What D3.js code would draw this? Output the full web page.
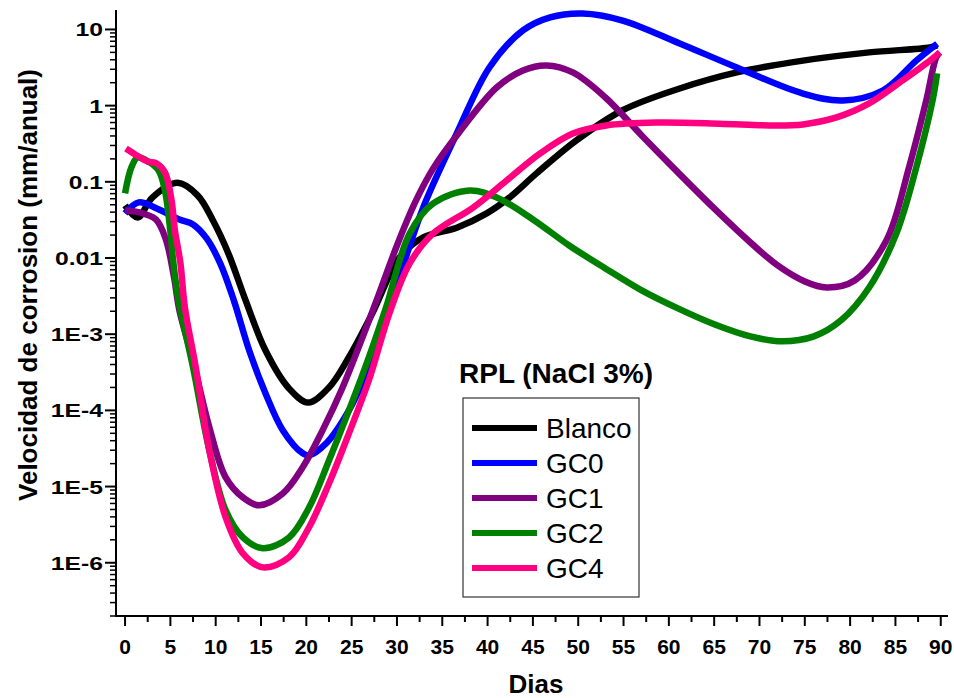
<!DOCTYPE html>
<html>
<head>
<meta charset="utf-8">
<script src="https://cdn.jsdelivr.net/npm/d3@7"></script>
<style>
  html, body { margin: 0; padding: 0; background: #fff; }
  svg { display: block; }
  text { font-family: "Liberation Sans", Arial, sans-serif; }
</style>
</head>
<body>
<svg id="chart" width="954" height="698"></svg>
<script>
// ---- data (day, corrosion rate mm/anual) ----
const seriesNames = ["Blanco", "GC0", "GC1", "GC2", "GC4"];
const seriesColors = ["#000000", "#0000ff", "#800080", "#008000", "#ff0080"];

const blanco = [[0,0.049],[1.4,0.034],[3,0.062],[5.8,0.097],[8,0.0664],[9.7,0.0311],[11.4,0.0115],
  [13.3,2.78e-3],[15.5,6.1e-4],[18,2.0e-4],[20.2,1.27e-4],[22.5,2.0e-4],[24.7,5.0e-4],[27.3,1.9e-3],
  [30.3,0.0102],[32.9,0.0186],[36.6,0.025],[39.9,0.0385],[42.4,0.062],[45.4,0.129],[49.8,0.35],
  [54.9,0.87],[61.2,1.68],[67.5,2.73],[74.8,3.9],[82.1,5.0],[88.8,5.8],[89.6,6.2]];
const gc0 = [[0,0.0385],[1.5,0.0537],[3.5,0.0448],[6,0.032],[7.5,0.0276],[9,0.0181],[10.5,8.5e-3],
  [12,2.78e-3],[13.7,6.1e-4],[15.5,1.67e-4],[17.4,5.5e-5],[19.6,2.73e-5],[20.3,2.57e-5],[22.2,3.7e-5],
  [24.7,1.0e-4],[26.9,3.66e-4],[28.8,1.52e-3],[30.8,8.75e-3],[32.9,0.0461],[36.6,0.431],[40.2,3.17],
  [43.9,9.7],[46.9,14.4],[50.5,16.2],[54.9,13.1],[61.2,6.55],[67.5,3.17],[74.8,1.44],[79.2,1.17],
  [83.6,1.58],[87.3,3.9],[89.6,6.5]];
const gc1 = [[0,0.0421],[1.6,0.0397],[3.4,0.0321],[4.5,0.0175],[5.4,5.6e-3],[6,2.05e-3],[7.5,4.5e-4],
  [9.3,6.0e-5],[11.1,1.32e-5],[13,7.2e-6],[14.8,5.67e-6],[17.4,8.1e-6],[19.6,1.79e-5],[21.8,5.5e-5],
  [24,2.0e-4],[26.2,9.1e-4],[28,3.33e-3],[30,0.0146],[32,0.0537],[34,0.15],[36.6,0.406],[41,1.73],
  [43.9,2.9],[46.5,3.37],[49.4,2.73],[53,1.28],[57,0.406],[61,0.133],[65,0.0448],[69,0.016],
  [72,8.0e-3],[75,4.93e-3],[77.4,4.11e-3],[80.5,5.08e-3],[84,0.017],[86.5,0.155],[88.4,1.17],
  [89.5,4.3],[89.9,5.0]];
const gc2 = [[0,0.0705],[0.7,0.155],[1.4,0.209],[2.7,0.18],[3.7,0.141],[4.4,0.077],[5,0.0223],
  [5.3,9.3e-3],[5.9,2.78e-3],[7.5,3.67e-4],[9.3,2.98e-5],[11.1,4.87e-6],[13,2.15e-6],[15.2,1.55e-6],
  [18.1,2.15e-6],[20.3,5.3e-6],[22.5,2.2e-5],[24.7,1.0e-4],[26.9,4.97e-4],[28.8,2.25e-3],[31.4,0.021],
  [34,0.052],[38,0.077],[41,0.0624],[45,0.0321],[49,0.0146],[53,7.3e-3],[57,3.76e-3],[61,2.18e-3],
  [65,1.35e-3],[69,9.35e-4],[72.5,8.05e-4],[76,9.35e-4],[79,1.52e-3],[82.1,4.1e-3],[85.1,0.021],
  [87.3,0.155],[89.1,1.17],[89.6,2.65]];
const gc4 = [[0.1,0.274],[1.3,0.222],[2.5,0.185],[3.5,0.174],[4.4,0.133],[5.1,0.0605],[5.5,0.023],
  [6.1,8.7e-3],[6.6,2.25e-3],[7.8,3.67e-4],[9.3,2.98e-5],[11.1,3.94e-6],[13,1.33e-6],[15.2,8.7e-7],
  [18.1,1.18e-6],[20.3,2.92e-6],[22.5,1.1e-5],[24.7,5.0e-5],[26.9,2.48e-4],[29.2,1.93e-3],[31.4,8.5e-3],
  [34,0.021],[38.4,0.046],[42.1,0.104],[45.8,0.236],[49.4,0.431],[53.1,0.55],[58.7,0.60],[65.6,0.58],
  [71.1,0.55],[74.8,0.567],[78.5,0.70],[82.1,1.07],[85.8,2.14],[88.4,3.58],[89.9,5.0]];
const allSeries = [blanco, gc0, gc1, gc2, gc4];

const xTickValues = d3.range(0, 91, 5);
const yTickValues = [1e-6, 1e-5, 1e-4, 1e-3, 0.01, 0.1, 1, 10];
const yTickLabels = ["1E-6", "1E-5", "1E-4", "1E-3", "0.01", "0.1", "1", "10"];

const xTitle = "Dias";
const yTitle = "Velocidad de corrosion (mm/anual)";
const legendTitle = "RPL (NaCl 3%)";

// ---- layout ----
const svg = d3.select("#chart");
const plot = { left: 116, right: 948, top: 10, bottom: 616 };

const x = d3.scaleLinear().domain([-1, 90.8]).range([plot.left, plot.right]);
const y = d3.scaleLog().domain([2e-7, 18]).range([plot.bottom, plot.top]);

// minor ticks
const xMinor = d3.range(2.5, 90, 5);
const yMinor = [];
for (let e = -7; e <= 1; e++) {
  for (let m = 2; m <= 9; m++) {
    const v = m * Math.pow(10, e);
    if (v >= 2e-7 && v <= 18) yMinor.push(v);
  }
}

// X axis
const xAxisG = svg.append("g").attr("transform", `translate(0,${plot.bottom})`);
xAxisG.append("line").attr("x1", plot.left - 1).attr("x2", plot.right).attr("y1", 0).attr("y2", 0)
  .attr("stroke", "#000").attr("stroke-width", 2);
xAxisG.selectAll(".xmaj").data(xTickValues).join("line")
  .attr("x1", d => x(d)).attr("x2", d => x(d)).attr("y1", 0).attr("y2", 10)
  .attr("stroke", "#000").attr("stroke-width", 2);
xAxisG.selectAll(".xmin").data(xMinor).join("line")
  .attr("x1", d => x(d)).attr("x2", d => x(d)).attr("y1", 0).attr("y2", 6)
  .attr("stroke", "#000").attr("stroke-width", 2);
xAxisG.selectAll(".xlab").data(xTickValues).join("text")
  .attr("x", d => x(d)).attr("y", 38)
  .attr("text-anchor", "middle").attr("font-weight", "bold").attr("font-size", 21)
  .text(d => d);

// Y axis
const yAxisG = svg.append("g").attr("transform", `translate(${plot.left},0)`);
yAxisG.append("line").attr("x1", 0).attr("x2", 0).attr("y1", plot.top).attr("y2", plot.bottom + 1)
  .attr("stroke", "#000").attr("stroke-width", 2);
yAxisG.selectAll(".ymaj").data(yTickValues).join("line")
  .attr("x1", -11).attr("x2", 0).attr("y1", d => y(d)).attr("y2", d => y(d))
  .attr("stroke", "#000").attr("stroke-width", 2);
yAxisG.selectAll(".ymin").data(yMinor).join("line")
  .attr("x1", -6).attr("x2", 0).attr("y1", d => y(d)).attr("y2", d => y(d))
  .attr("stroke", "#000").attr("stroke-width", 1.5);
yAxisG.selectAll(".ylab").data(yTickValues).join("text")
  .attr("transform", d => `translate(-13,${y(d) + 7}) scale(1.3,1)`)
  .attr("text-anchor", "end").attr("font-weight", "bold").attr("font-size", 19)
  .text((d, i) => yTickLabels[i]);

// Axis titles
svg.append("text").attr("x", 536).attr("y", 693).attr("text-anchor", "middle")
  .attr("font-weight", "bold").attr("font-size", 26).text(xTitle);
svg.append("text").attr("transform", "translate(37,285) rotate(-90)").attr("text-anchor", "middle")
  .attr("font-weight", "bold").attr("font-size", 26).text(yTitle);

// Lines
const line = d3.line()
  .x(d => x(d[0])).y(d => y(d[1]))
  .curve(d3.curveCatmullRom.alpha(0.5));
svg.append("g").selectAll("path").data(allSeries).join("path")
  .attr("d", d => line(d))
  .attr("fill", "none")
  .attr("stroke", (d, i) => seriesColors[i])
  .attr("stroke-width", 6.5)
  .attr("stroke-linejoin", "round");

// Legend
svg.append("text").attr("x", 556).attr("y", 383).attr("text-anchor", "middle")
  .attr("font-weight", "bold").attr("font-size", 28).text(legendTitle);
const lg = svg.append("g");
lg.append("rect").attr("x", 463).attr("y", 398).attr("width", 176).attr("height", 199)
  .attr("fill", "none").attr("stroke", "#333").attr("stroke-width", 1.2);
const items = lg.selectAll(".item").data(seriesNames).join("g")
  .attr("transform", (d, i) => `translate(0,${428 + i * 35})`);
items.append("line").attr("x1", 472).attr("x2", 537).attr("y1", 0).attr("y2", 0)
  .attr("stroke", (d, i) => seriesColors[i]).attr("stroke-width", 6);
items.append("text").attr("x", 546).attr("y", 10).attr("font-size", 28).text(d => d);
</script>
</body>
</html>
